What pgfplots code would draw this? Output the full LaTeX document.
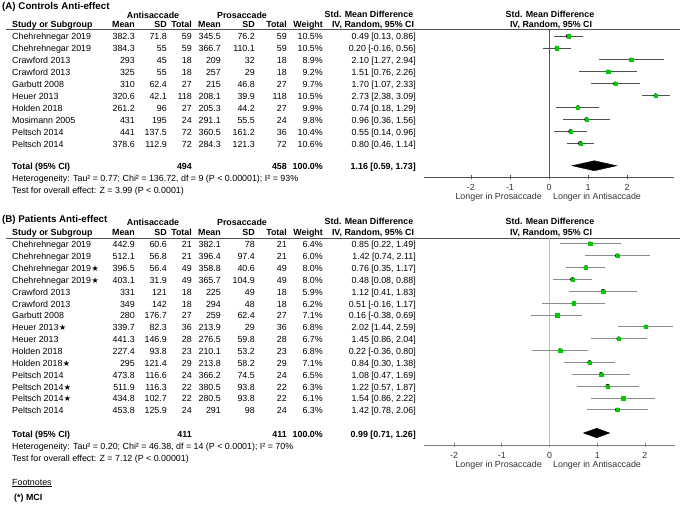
\documentclass[border=0pt]{standalone}
\usepackage{fontspec}
\setmainfont{Liberation Sans}
\newfontfamily\djv{DejaVu Sans}
\usepackage{pgfplots}
\usepackage{pgfplotstable}
\pgfplotsset{compat=1.18}
\definecolor{smdgreen}{HTML}{00CC00}
\definecolor{lineA}{HTML}{505050}
\definecolor{lineB}{HTML}{8C8C8C}
\definecolor{zeroB}{HTML}{BBBBBB}

\newcommand{\fs}{\fontsize{8.9}{10}\selectfont}
\newcommand{\st}{\hspace{0.5pt}{\djv\fontsize{8}{8}\selectfont ★}}

% one row of the table at baseline \Y, then step down
\newcommand{\trow}[9]{%
  \node[anchor=base west] at (12,\Y) {#1};
  \node[anchor=base east] at (135,\Y) {#2};
  \node[anchor=base east] at (167,\Y) {#3};
  \node[anchor=base east] at (192,\Y) {#4};
  \node[anchor=base east] at (221,\Y) {#5};
  \node[anchor=base east] at (255,\Y) {#6};
  \node[anchor=base east] at (287,\Y) {#7};
  \node[anchor=base east] at (323,\Y) {#8};
  \node[anchor=base east] at (416,\Y) {#9};
  \pgfmathsetmacro\tmpY{\Y+\dY}\xdef\Y{\tmpY}}

\newcommand{\thead}[2]{% baseline of group header, baseline of column header
  \node[anchor=base, font=\fs\bfseries] at (153,#1) {Antisaccade};
  \node[anchor=base, font=\fs\bfseries] at (242,#1) {Prosaccade};
  \node[anchor=base, font=\fs\bfseries] at (369,#1-1) {Std. Mean Difference};
  \node[anchor=base, font=\fs\bfseries] at (550,#1-1) {Std. Mean Difference};
  \node[anchor=base west, font=\fs\bfseries] at (12,#2) {Study or Subgroup};
  \node[anchor=base east, font=\fs\bfseries] at (135,#2) {Mean};
  \node[anchor=base east, font=\fs\bfseries] at (167,#2) {SD};
  \node[anchor=base east, font=\fs\bfseries] at (192,#2) {Total};
  \node[anchor=base east, font=\fs\bfseries] at (221,#2) {Mean};
  \node[anchor=base east, font=\fs\bfseries] at (255,#2) {SD};
  \node[anchor=base east, font=\fs\bfseries] at (287,#2) {Total};
  \node[anchor=base east, font=\fs\bfseries] at (323,#2) {Weight};
  \node[anchor=base, font=\fs\bfseries] at (373,#2) {IV, Random, 95\% CI};
  \node[anchor=base, font=\fs\bfseries] at (551,#2) {IV, Random, 95\% CI};
  \draw[lineA, line width=0.7bp] (6,#2+2) -- (680,#2+2);}

% study estimates: row index, SMD, lower, upper
\pgfplotstableread{
row est lo hi
1 0.49 0.13 0.86
2 0.20 -0.16 0.56
3 2.10 1.27 2.94
4 1.51 0.76 2.26
5 1.70 1.07 2.33
6 2.73 2.38 3.09
7 0.74 0.18 1.29
8 0.96 0.36 1.56
9 0.55 0.14 0.96
10 0.80 0.46 1.14
}\ctrlA

\pgfplotstableread{
row est lo hi
1 0.85 0.22 1.49
2 1.42 0.74 2.11
3 0.76 0.35 1.17
4 0.48 0.08 0.88
5 1.12 0.41 1.83
6 0.51 -0.16 1.17
7 0.16 -0.38 0.69
8 2.02 1.44 2.59
9 1.45 0.86 2.04
10 0.22 -0.36 0.80
11 0.84 0.30 1.38
12 1.08 0.47 1.69
13 1.22 0.57 1.87
14 1.54 0.86 2.22
15 1.42 0.78 2.06
}\patB

\pgfplotsset{forest/.style={
  scale only axis, anchor=south west,
  axis x line=bottom, axis y line=none, axis line style={-},
  xtick={-2,-1,0,1,2}, ytick=\empty,
  tick align=center, major tick length=4bp,
  xticklabel style={font=\fs, text=black!80, yshift=-1.5bp},
  /pgf/number format/assume math mode=true,
  enlargelimits=false, clip=false},
  smdmark/.style={only marks, color=smdgreen, mark=square*, mark size=1.6bp,
  mark options={draw=smdgreen, fill=smdgreen, line width=0.1bp}}}

\begin{document}
\begin{tikzpicture}
\begin{scope}[x=1bp, y=-1bp, every node/.style={inner sep=0pt, font=\fs}]
\path[use as bounding box] (0,0) rectangle (685,507);

% ---------- (A) ----------
\node[anchor=base west, font=\fontsize{9.8}{11}\selectfont\bfseries] at (2,10) {(A) Controls Anti-effect};
\thead{18.5}{27.5}
\def\dY{11.92}\xdef\Y{40}
\trow{Chehrehnegar 2019}{382.3}{71.8}{59}{345.5}{76.2}{59}{10.5\%}{0.49 [0.13, 0.86]}
\trow{Chehrehnegar 2019}{384.3}{55}{59}{366.7}{110.1}{59}{10.5\%}{0.20 [-0.16, 0.56]}
\trow{Crawford 2013}{293}{45}{18}{209}{32}{18}{8.9\%}{2.10 [1.27, 2.94]}
\trow{Crawford 2013}{325}{55}{18}{257}{29}{18}{9.2\%}{1.51 [0.76, 2.26]}
\trow{Garbutt 2008}{310}{62.4}{27}{215}{46.8}{27}{9.7\%}{1.70 [1.07, 2.33]}
\trow{Heuer 2013}{320.6}{42.1}{118}{208.1}{39.9}{118}{10.5\%}{2.73 [2.38, 3.09]}
\trow{Holden 2018}{261.2}{96}{27}{205.3}{44.2}{27}{9.9\%}{0.74 [0.18, 1.29]}
\trow{Mosimann 2005}{431}{195}{24}{291.1}{55.5}{24}{9.8\%}{0.96 [0.36, 1.56]}
\trow{Peltsch 2014}{441}{137.5}{72}{360.5}{161.2}{36}{10.4\%}{0.55 [0.14, 0.96]}
\trow{Peltsch 2014}{378.6}{112.9}{72}{284.3}{121.3}{72}{10.6\%}{0.80 [0.46, 1.14]}
\begin{scope}[every node/.style={inner sep=0pt, font=\fs\bfseries}]
\def\Y{169.7}
\trow{Total (95\% CI)}{}{}{494}{}{}{458}{100.0\%}{1.16 [0.59, 1.73]}
\end{scope}
\node[anchor=base west] at (12,181.6) {Heterogeneity: Tau² = 0.77; Chi² = 136.72, df = 9 (P < 0.00001); I² = 93\%};
\node[anchor=base west] at (12,193.5) {Test for overall effect: Z = 3.99 (P < 0.0001)};
\node[anchor=base east, text=black!80] at (542,200) {Longer in Prosaccade};
\node[anchor=base west, text=black!80] at (553,200) {Longer in Antisaccade};

% ---------- (B) ----------
\node[anchor=base west, font=\fontsize{9.8}{11}\selectfont\bfseries] at (2,222.5) {(B) Patients Anti-effect};
\thead{226}{236}
\def\dY{11.86}\xdef\Y{247.8}
\trow{Chehrehnegar 2019}{442.9}{60.6}{21}{382.1}{78}{21}{6.4\%}{0.85 [0.22, 1.49]}
\trow{Chehrehnegar 2019}{512.1}{56.8}{21}{396.4}{97.4}{21}{6.0\%}{1.42 [0.74, 2.11]}
\trow{Chehrehnegar 2019\st}{396.5}{56.4}{49}{358.8}{40.6}{49}{8.0\%}{0.76 [0.35, 1.17]}
\trow{Chehrehnegar 2019\st}{403.1}{31.9}{49}{365.7}{104.9}{49}{8.0\%}{0.48 [0.08, 0.88]}
\trow{Crawford 2013}{331}{121}{18}{225}{49}{18}{5.9\%}{1.12 [0.41, 1.83]}
\trow{Crawford 2013}{349}{142}{18}{294}{48}{18}{6.2\%}{0.51 [-0.16, 1.17]}
\trow{Garbutt 2008}{280}{176.7}{27}{259}{62.4}{27}{7.1\%}{0.16 [-0.38, 0.69]}
\trow{Heuer 2013\st}{339.7}{82.3}{36}{213.9}{29}{36}{6.8\%}{2.02 [1.44, 2.59]}
\trow{Heuer 2013}{441.3}{146.9}{28}{276.5}{59.8}{28}{6.7\%}{1.45 [0.86, 2.04]}
\trow{Holden 2018}{227.4}{93.8}{23}{210.1}{53.2}{23}{6.8\%}{0.22 [-0.36, 0.80]}
\trow{Holden 2018\st}{295}{121.4}{29}{213.8}{58.2}{29}{7.1\%}{0.84 [0.30, 1.38]}
\trow{Peltsch 2014}{473.8}{116.6}{24}{366.2}{74.5}{24}{6.5\%}{1.08 [0.47, 1.69]}
\trow{Peltsch 2014\st}{511.9}{116.3}{22}{380.5}{93.8}{22}{6.3\%}{1.22 [0.57, 1.87]}
\trow{Peltsch 2014\st}{434.8}{102.7}{22}{280.5}{93.8}{22}{6.1\%}{1.54 [0.86, 2.22]}
\trow{Peltsch 2014}{453.8}{125.9}{24}{291}{98}{24}{6.3\%}{1.42 [0.78, 2.06]}
\begin{scope}[every node/.style={inner sep=0pt, font=\fs\bfseries}]
\def\Y{437}
\trow{Total (95\% CI)}{}{}{411}{}{}{411}{100.0\%}{0.99 [0.71, 1.26]}
\end{scope}
\node[anchor=base west] at (12,449) {Heterogeneity: Tau² = 0.20; Chi² = 46.38, df = 14 (P < 0.0001); I² = 70\%};
\node[anchor=base west] at (12,461) {Test for overall effect: Z = 7.12 (P < 0.00001)};
\node[anchor=base east, text=black!80] at (542,467) {Longer in Prosaccade};
\node[anchor=base west, text=black!80] at (553,467) {Longer in Antisaccade};

\node[anchor=base west] at (12,485) {\underline{Footnotes}};
\node[anchor=base west, font=\fs\bfseries] at (14,500) {(*) MCI};
\end{scope}

% forest plot A
\begin{axis}[forest, at={(424bp,-177.3bp)}, width=250bp, height=148.3bp,
  xmin=-3.2, xmax=3.2, ymin=-12.85, ymax=-0.41,
  axis line style={lineA, line width=0.7bp}, x tick style={lineA, line width=0.7bp}]
\addplot[lineA, line width=0.7bp] coordinates {(0,-0.41) (0,-12.85)};
\addplot[only marks, mark=none, forget plot,
  error bars/.cd, x dir=both, x explicit, error mark=none,
  error bar style={draw=lineA, line width=0.8bp}]
  table[x=est, y expr=-\thisrow{row},
        x error plus expr=\thisrow{hi}-\thisrow{est},
        x error minus expr=\thisrow{est}-\thisrow{lo}] {\ctrlA};
\addplot[smdmark] table[x=est, y expr=-\thisrow{row}] {\ctrlA};
\addplot[fill=black, draw=black] coordinates {(0.59,-11.88) (1.16,-11.46) (1.73,-11.88) (1.16,-12.30)} -- cycle;
\end{axis}

% forest plot B
\begin{axis}[forest, at={(424bp,-445bp)}, width=251bp, height=207bp,
  xmin=-2.63, xmax=2.63, ymin=-17.96, ymax=-0.51,
  axis line style={lineB!90!black, line width=0.7bp}, x tick style={lineB!90!black, line width=0.7bp}]
\addplot[zeroB, line width=1bp] coordinates {(0,-0.51) (0,-17.96)};
\addplot[only marks, mark=none, forget plot,
  error bars/.cd, x dir=both, x explicit, error mark=none,
  error bar style={draw=lineB, line width=0.8bp}]
  table[x=est, y expr=-\thisrow{row},
        x error plus expr=\thisrow{hi}-\thisrow{est},
        x error minus expr=\thisrow{est}-\thisrow{lo}] {\patB};
\addplot[smdmark] table[x=est, y expr=-\thisrow{row}] {\patB};
\addplot[fill=black, draw=black] coordinates {(0.71,-16.95) (0.99,-16.55) (1.26,-16.95) (0.99,-17.35)} -- cycle;
\end{axis}
\end{tikzpicture}
\end{document}
